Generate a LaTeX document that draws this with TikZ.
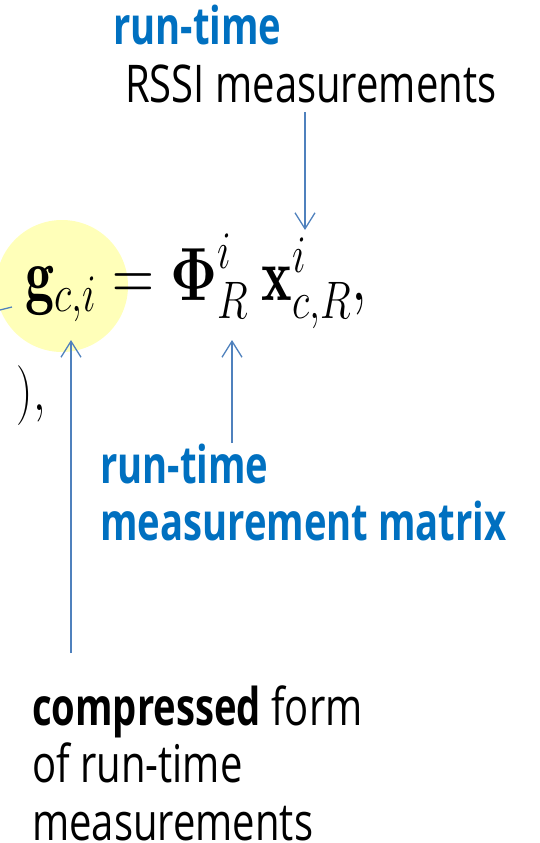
\RequirePackage{fix-cm}
\documentclass[tikz,border=0pt]{standalone}
\usepackage{amsmath}
\usepackage{fontspec}
\newfontfamily\osans{Open Sans}
\usetikzlibrary{arrows.meta}
\definecolor{tblue}{HTML}{0070C0}
\definecolor{lblue}{HTML}{4F81BD}
\definecolor{hlyellow}{RGB}{255,255,185}
\newcommand{\vs}[1]{\scalebox{1}[1.3]{#1}}
\newcommand{\bsf}[1]{\scalebox{0.955}[1]{\bfseries #1}}
\begin{document}
\begin{tikzpicture}[x=1pt,y=-1pt,
  lbl/.style={inner sep=0pt, anchor=base west, font=\osans\fontsize{40}{44.6}\selectfont},
  arr/.style={draw=lblue, line width=1.3pt, -{Straight Barb[length=16pt,width=20pt]}},
  conn/.style={draw=lblue, line width=1.3pt},
  eqn/.style={inner sep=0pt, font=\fontsize{58}{62}\selectfont}
]
\useasboundingbox (0,0) rectangle (539,843);
% highlight
\node[circle, fill=hlyellow, minimum size=132pt, inner sep=0pt] (hl) at (62,286) {};
% texts
\node[lbl] (top) at (113,45) {\vs{\begin{tabular}[t]{@{}l@{}}\textcolor{tblue}{\bsf{run-time}}\\\hspace*{12pt}RSSI measurements\end{tabular}}};
\node[eqn, anchor=base west] (eq) at (25,300) {\vs{$\mathbf{g}_{c,i} = \boldsymbol{\Phi}^{i}_{R}\mkern4mu\mathbf{x}^{i}_{c,R},$}};
\node[inner sep=0pt, font=\fontsize{46}{50}\selectfont, anchor=base east] (eqprev) at (46,410) {\vs{$),$}};
\node[lbl, text=tblue] (mm) at (100,483) {\vs{\begin{tabular}[t]{@{}l@{}}\bsf{run-time}\\\bsf{measurement matrix}\end{tabular}}};
\node[lbl] (cf) at (32,725) {\vs{\begin{tabular}[t]{@{}l@{}}\bsf{compressed} form\\of run-time\\measurements\end{tabular}}};
% connectors
\coordinate (a1s) at (305,112);
\coordinate (a1e) at (305,230);
\coordinate (a2s) at (71,653);
\coordinate (a2e) at (71,340);
\coordinate (a3s) at (232,443);
\coordinate (a3e) at (232,340);
\coordinate (l0) at (0,310);
\coordinate (l1) at (12,307);
\draw[arr] (a1s) -- (a1e);
\draw[arr] (a2s) -- (a2e);
\draw[arr] (a3s) -- (a3e);
\draw[conn] (l0) -- (l1);
\end{tikzpicture}
\end{document}
